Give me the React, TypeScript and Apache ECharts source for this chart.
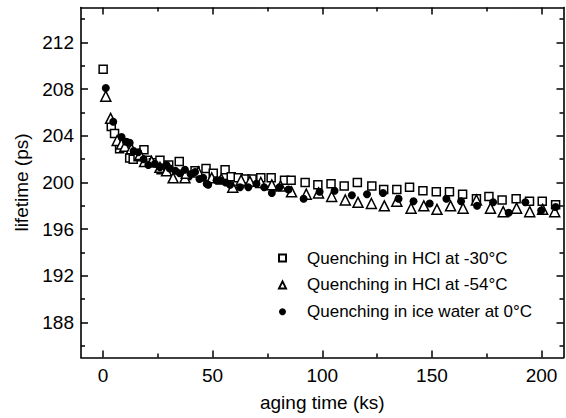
import React, { useEffect, useRef } from "react";
import * as echarts from "echarts";

const xMajor = [0, 50, 100, 150, 200];
const xMinor = [25, 75, 125, 175];
const yMajor = [188, 192, 196, 200, 204, 208, 212];
const yMinor = [186, 190, 194, 198, 202, 206, 210, 214];

const seriesNames = [
  "Quenching in HCl at -30°C",
  "Quenching in HCl at -54°C",
  "Quenching in ice water at 0°C",
];

const hcl30: number[][] = [
  [0.1, 209.7], [3.8, 204.8], [5.3, 204.2], [7.6, 202.9], [9.5, 203.4], [12.2, 202.1],
  [13.8, 202.0], [16, 202.2], [18.7, 202.8], [20.2, 201.9], [23, 201.7], [26, 201.9],
  [26.5, 201.1], [30, 201.5], [34.8, 201.8], [38.2, 200.6], [42, 201.0], [47, 201.2],
  [50.3, 200.8], [55.7, 201.1], [58.5, 200.5], [61.7, 200.4], [65, 200.3], [68, 200.3],
  [72, 200.4], [76.7, 200.4], [82.8, 200.2], [85.8, 200.2], [92.2, 200.0], [98, 199.8],
  [104, 199.9], [110, 199.7], [116, 200.0], [122.6, 199.7], [128, 199.4], [134, 199.4],
  [139.8, 199.6], [145.9, 199.3], [152, 199.2], [158, 199.2], [164, 199.0], [170.3, 198.6],
  [176, 198.8], [182, 198.5], [188.4, 198.6], [194.5, 198.4], [200.3, 198.4], [206.4, 198.1],
];

const hcl54: number[][] = [
  [1.3, 207.4], [3.5, 205.5], [6.5, 203.6], [8.5, 203.3], [10, 203.1], [13, 202.9],
  [16.9, 202.4], [19, 201.8], [22.2, 201.8], [26, 201.3], [29, 201.0], [32, 200.4],
  [37.4, 200.4], [38, 200.8], [43.5, 200.9], [49.6, 200.4], [54, 200.3], [59.2, 199.6],
  [63, 200.2], [67, 200.1], [72, 200.0], [77, 199.8], [81, 199.7], [86, 199.2],
  [92.7, 199.0], [98.3, 199.1], [104.3, 198.8], [110.5, 198.5], [116.3, 198.3], [122.4, 198.2],
  [128.3, 198.0], [134, 198.4], [140.5, 197.8], [146.3, 198.0], [152.3, 197.7], [158.5, 198.0],
  [164.2, 197.8], [170.3, 198.5], [176.7, 197.8], [182.5, 197.5], [188.6, 197.8], [194.6, 197.5],
  [200.5, 197.7], [206, 197.5],
];

const iceWater: number[][] = [
  [1.3, 208.1], [4.7, 205.2], [8.5, 203.9], [10.5, 203.5], [12.2, 203.4], [14, 202.7],
  [16.1, 202.6], [18.5, 202.0], [20.7, 201.5], [23.7, 201.6], [26, 201.3], [29, 201.5],
  [30.5, 201.2], [33, 201.0], [35, 200.8], [37.4, 201.1], [40, 200.7], [42, 200.9],
  [44, 200.3], [45.7, 200.4], [47.3, 199.9], [48, 199.8], [51.8, 200.2], [53.4, 200.2],
  [56, 200.0], [58, 199.8], [62.5, 199.6], [66.3, 199.6], [70, 199.9], [73.5, 199.6],
  [77, 199.1], [80.5, 199.6], [84.6, 199.4], [91.5, 198.6], [98.8, 199.2], [105.6, 199.3],
  [113.5, 198.9], [120.4, 199.0], [127.7, 199.1], [134.8, 198.6], [141.6, 198.4], [149, 198.2],
  [156.6, 198.6], [163.3, 198.4], [170.6, 198.0], [177.9, 198.3], [185, 197.4], [192.6, 198.3],
  [199.8, 197.6], [206.4, 197.9],
];

const FONT = "'Liberation Sans', Arial, sans-serif";

export default function App() {
  const ref = useRef<HTMLDivElement>(null);
  useEffect(() => {
    if (!ref.current) return;
    const chart = echarts.init(ref.current, null, { renderer: "svg" });
    const xBase = { type: "value", min: -10, max: 210, splitLine: { show: false } };
    const yBase = { type: "value", min: 185, max: 215, splitLine: { show: false } };
    const line = { show: true, onZero: false, lineStyle: { color: "#000", width: 1.6 } };
    const noLine = { show: false, onZero: false };
    const tick = (vals: number[], len: number) => ({
      show: true, inside: true, length: len, customValues: vals,
      lineStyle: { color: "#000", width: 1.5 },
    });
    const noLabel = { show: false };
    chart.setOption({
      animation: false,
      backgroundColor: "#fff",
      grid: { left: 81, right: 2.5, top: 7.5, bottom: 60.5, outerBoundsMode: "none" },
      xAxis: [
        {
          ...xBase, position: "bottom", axisLine: line, axisTick: tick(xMajor, 7),
          axisLabel: { show: true, customValues: xMajor, margin: 8, color: "#000", fontSize: 19, fontFamily: FONT },
          name: "aging time (ks)", nameLocation: "middle", nameGap: 35,
          nameTextStyle: { color: "#000", fontSize: 19, fontFamily: FONT },
        },
        { ...xBase, position: "bottom", axisLine: noLine, axisTick: tick(xMinor, 4), axisLabel: noLabel },
        { ...xBase, position: "top", axisLine: line, axisTick: tick(xMajor, 7), axisLabel: noLabel },
        { ...xBase, position: "top", axisLine: noLine, axisTick: tick(xMinor, 4), axisLabel: noLabel },
      ],
      yAxis: [
        {
          ...yBase, position: "left", axisLine: line, axisTick: tick(yMajor, 7),
          axisLabel: { show: true, customValues: yMajor, margin: 7, color: "#000", fontSize: 19, fontFamily: FONT },
          name: "lifetime (ps)", nameLocation: "middle", nameGap: 46,
          nameTextStyle: { color: "#000", fontSize: 19, fontFamily: FONT },
        },
        { ...yBase, position: "left", axisLine: noLine, axisTick: tick(yMinor, 4), axisLabel: noLabel },
        { ...yBase, position: "right", axisLine: line, axisTick: tick(yMajor, 7), axisLabel: noLabel },
        { ...yBase, position: "right", axisLine: noLine, axisTick: tick(yMinor, 4), axisLabel: noLabel },
      ],
      legend: {
        orient: "vertical",
        left: 278,
        top: 248,
        padding: 0,
        itemWidth: 7,
        itemHeight: 7,
        itemGap: 6.9,
        data: seriesNames,
        textStyle: { color: "#000", fontSize: 17, fontFamily: FONT, lineHeight: 20, padding: [0, 0, 0, 16] },
      },
      series: [
        {
          name: seriesNames[0], type: "scatter", data: hcl30, symbol: "rect", symbolSize: 8,
          itemStyle: { color: "#fff", borderColor: "#000", borderWidth: 1.5, opacity: 1 },
        },
        {
          name: seriesNames[1], type: "scatter", data: hcl54, symbol: "triangle", symbolSize: 10,
          itemStyle: { color: "#fff", borderColor: "#000", borderWidth: 1.5, opacity: 1 },
        },
        {
          name: seriesNames[2], type: "scatter", data: iceWater, symbol: "circle", symbolSize: 8,
          itemStyle: { color: "#000", borderColor: "#000", borderWidth: 0, opacity: 1 },
        },
      ],
    });
    return () => chart.dispose();
  }, []);
  return (
    <div
      ref={ref}
      style={{ position: "fixed", left: 0, top: 0, width: 566, height: 418, background: "#fff" }}
    />
  );
}
